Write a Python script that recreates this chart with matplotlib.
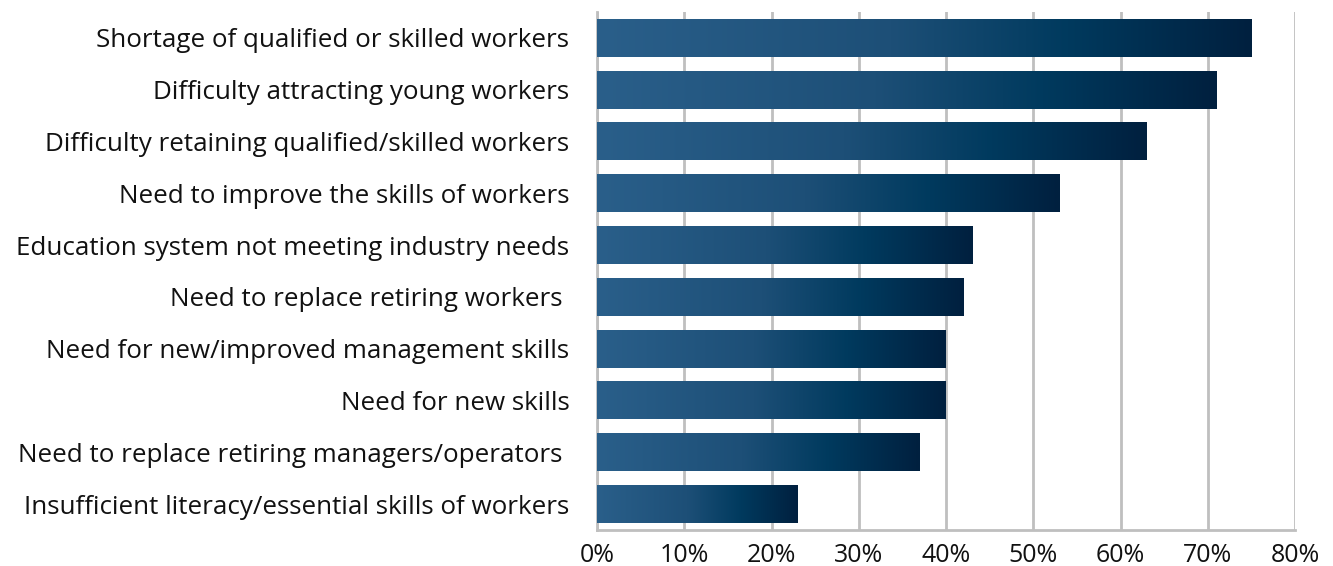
import numpy as np
import matplotlib
matplotlib.use("Agg")
import matplotlib.pyplot as plt
import matplotlib.ticker as mticker
from matplotlib.colors import LinearSegmentedColormap

# data (top to bottom)
labels = [
    "Shortage of qualified or skilled workers",
    "Difficulty attracting young workers",
    "Difficulty retaining qualified/skilled workers",
    "Need to improve the skills of workers",
    "Education system not meeting industry needs",
    "Need to replace retiring workers ",
    "Need for new/improved management skills",
    "Need for new skills",
    "Need to replace retiring managers/operators ",
    "Insufficient literacy/essential skills of workers",
]
values = [75, 71, 63, 53, 43, 42, 40, 40, 37, 23]
x_ticks = [0, 10, 20, 30, 40, 50, 60, 70, 80]

plt.rcParams["font.family"] = ["Open Sans", "DejaVu Sans"]

GRID = "#bfbfbf"
cmap = LinearSegmentedColormap.from_list(
    "bar", [(0, "#2a5f8a"), (0.45, "#1d4f77"), (0.72, "#003a5e"), (1, "#00203f")])
grad = np.linspace(0, 1, 256).reshape(1, -1)

fig = plt.figure(figsize=(13.33, 5.66), dpi=100)
ax = fig.add_axes([0.448, 0.0636, 0.5235, 0.9154])

n = len(values)
ypos = np.arange(n)
h = 0.73
bars = ax.barh(ypos, values, height=h, color="none", zorder=2)
for y, v in zip(ypos, values):
    ax.imshow(grad, cmap=cmap, aspect="auto", interpolation="bicubic",
              extent=[0, v, y + h / 2, y - h / 2], zorder=3)

ax.set_xlim(0, 80)
ax.set_ylim(n - 0.5, -0.5)
ax.set_xticks(x_ticks)
ax.xaxis.set_major_formatter(mticker.FuncFormatter(lambda x, _: f"{x:.0f}%"))
ax.set_yticks(ypos)
ax.set_yticklabels(labels)
ax.tick_params(axis="y", length=0, pad=20, labelsize=18.7, colors="#111111")
ax.tick_params(axis="x", length=0, pad=9, labelsize=18, colors="#111111")

ax.grid(axis="x", color=GRID, linewidth=2, zorder=0)
ax.set_axisbelow(True)
for s in ["top", "right"]:
    ax.spines[s].set_visible(False)
ax.spines["left"].set_color(GRID)
ax.spines["left"].set_linewidth(2)
ax.spines["bottom"].set_color(GRID)
ax.spines["bottom"].set_linewidth(2)

plt.savefig("out.png", dpi=100)
plt.close()
